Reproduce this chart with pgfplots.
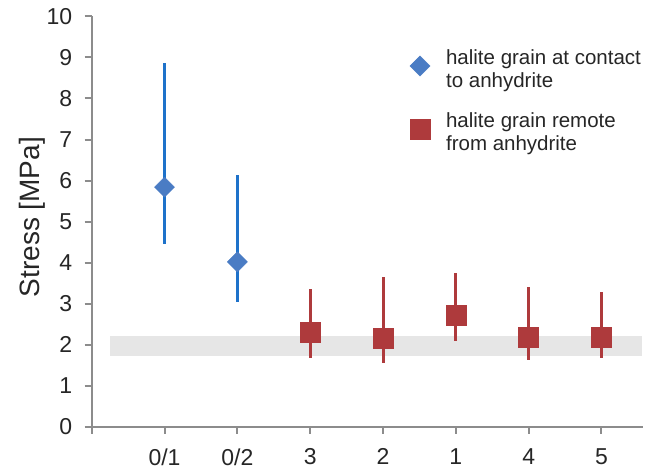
\documentclass[border=0pt]{standalone}
\usepackage{pgfplots}
\pgfplotsset{compat=1.18}
\usepackage{fontspec}
\setmainfont{Liberation Sans}

\definecolor{barblue}{HTML}{1E72CA}
\definecolor{dia}{HTML}{4A7CC4}
\definecolor{sqred}{HTML}{AE3A3C}
\definecolor{band}{HTML}{E6E6E6}
\definecolor{axgray}{HTML}{8C8C8C}

\begin{document}
\begin{tikzpicture}
\useasboundingbox (-91.7pt,-46pt) rectangle (554.3pt,427pt);
\begin{axis}[
    at={(0,0)}, anchor=south west,
    scale only axis,
    width=551.3pt,
    height=410.7pt,
    xmin=0, xmax=7.57,
    ymin=0, ymax=10,
    axis lines=left,
    axis line style={axgray, line width=2pt, -},
    tick style={axgray, line width=2pt},
    tick align=outside,
    major tick length=7pt,
    xtick={0,1,...,7},
    xticklabels={{},0/1,0/2,3,2,1,4,5},
    ytick={0,1,...,10},
    /pgf/number format/assume math mode=true,
    ticklabel style={font=\fontsize{23}{26}\selectfont, text=black!85},
    xticklabel style={yshift=-11pt},
    yticklabel style={xshift=-9pt},
    ylabel={Stress [MPa]},
    ylabel style={at={(axis description cs:-0.107,0.511)}, anchor=center,
        font=\fontsize{28}{32}\selectfont, text=black!85},
    clip=false,
    legend style={at={(axis description cs:0.577,0.925)}, anchor=north west,
        draw=none, fill=none, inner sep=0pt,
        font=\fontsize{20.5}{23}\selectfont, text=black!85,
        cells={anchor=west, align=left},
        row sep=20pt, column sep=14pt},
    legend image code/.code={\draw[#1, mark repeat=1] plot coordinates {(10pt,0.3em)};},
]

% grey band
\addplot[fill=band, draw=none, forget plot] coordinates {
    (0.25,1.73) (7.56,1.73) (7.56,2.21) (0.25,2.21)
} -- cycle;

% halite grain at contact to anhydrite
\addplot[
    only marks,
    mark=square*, mark size=7.1pt,
    mark options={rotate=45, fill=dia, draw=dia},
    error bars/.cd,
    y dir=both, y explicit,
    error mark=none,
    error bar style={barblue, line width=3pt},
] coordinates {
    (1,5.84) += (0,3.02) -= (0,1.38)
    (2,4.02) += (0,2.12) -= (0,0.97)
};
\addlegendentry{halite grain at contact\\to anhydrite}

% halite grain remote from anhydrite
\addplot[
    only marks,
    mark=square*, mark size=10pt,
    mark options={fill=sqred, draw=sqred, rounded corners=1pt},
    error bars/.cd,
    y dir=both, y explicit,
    error mark=none,
    error bar style={sqred, line width=3pt},
] coordinates {
    (3,2.31) += (0,1.05) -= (0,0.62)
    (4,2.17) += (0,1.47) -= (0,0.60)
    (5,2.72) += (0,1.02) -= (0,0.62)
    (6,2.19) += (0,1.21) -= (0,0.56)
    (7,2.19) += (0,1.10) -= (0,0.50)
};
\addlegendentry{halite grain remote\\from anhydrite}

\end{axis}
\end{tikzpicture}
\end{document}
